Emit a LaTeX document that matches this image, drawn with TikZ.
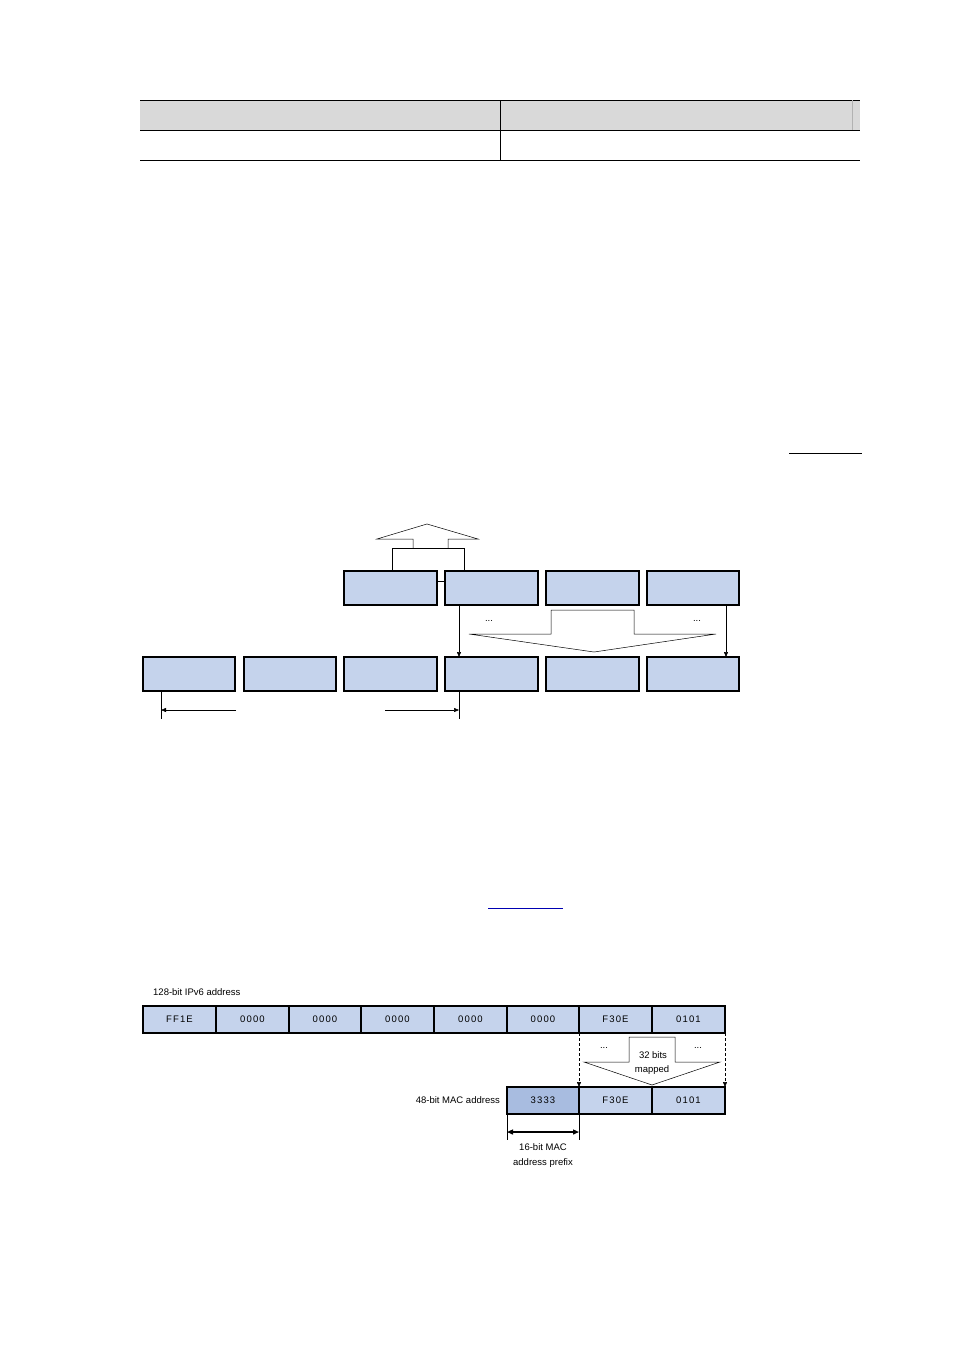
\documentclass[tikz,border=0pt]{standalone}
\usepackage{fontspec}
\setmainfont{Liberation Sans}
\usetikzlibrary{arrows.meta}
\definecolor{bx}{HTML}{C5D3EC}
\definecolor{bxd}{HTML}{A8BCE0}
\begin{document}
\begin{tikzpicture}[x=1pt,y=-1pt,
  blk/.style={draw,line width=1.3pt,fill=bx},
  mb/.style={draw,line width=1.1pt,fill=bx},
  lbl/.style={font=\fontsize{9.5}{11}\selectfont,inner sep=0pt},
  arr/.style={-{Triangle[length=5pt,width=4pt]},line width=0.5pt}]
\useasboundingbox (0,0) rectangle (954,1350);
% table
\fill[gray!30] (140,100) rectangle (860,130);
\draw[line width=0.5pt] (140,100) -- (860,100) (140,130) -- (860,130) (140,160) -- (860,160) (500,100) -- (500,160);
\draw[gray!60] (852,100) -- (852,130);
\draw[line width=0.5pt] (789,453) -- (862,453);
\draw[line width=0.5pt,blue!70!black] (488,908) -- (563,908);
% middle diagram
\foreach \n/\a/\b in {t1/344/437,t2/445/538,t3/546/639,t4/647/739}
  \draw[blk] (\a,571) rectangle (\b,605) coordinate (\n);
\foreach \n/\a/\b in {b1/143/235,b2/244/336,b3/344/437,b4/445/538,b5/546/639,b6/647/739}
  \draw[blk] (\a,657) rectangle (\b,691);
\draw[line width=0.5pt] (413,548) -- (413,539) -- (377,539) -- (427,524) -- (478,539) -- (448,539) -- (448,548);
\draw[line width=0.5pt] (392,571) -- (392,548) -- (464,548) -- (464,571);
\draw[line width=0.5pt] (437,581) -- (445,581);
\draw[line width=0.5pt] (469,634) -- (551,634) -- (551,610) -- (634,610) -- (634,634) -- (716,634) -- (594,652) -- cycle;
\node[lbl] (d1) at (489,621) {...};
\node[lbl] (d2) at (697,621) {...};
\coordinate (a1) at (459,605); \coordinate (a1e) at (459,657);
\coordinate (a2) at (726,605); \coordinate (a2e) at (726,657);
\draw[arr] (a1) -- (a1e);
\draw[arr] (a2) -- (a2e);
\draw[line width=0.5pt] (161,691) -- (161,719) (459,691) -- (459,719);
\coordinate (l1) at (236,710); \coordinate (l2) at (161,710);
\coordinate (r1) at (385,710); \coordinate (r2) at (459,710);
\draw[arr] (l1) -- (l2);
\draw[arr] (r1) -- (r2);
% bottom diagram
\node[lbl,anchor=west] (ipv6) at (153,992) {128-bit IPv6 address};
\foreach \a/\b/\t in {143/216/FF1E,216/289/0000,289/361/0000,361/434/0000,434/507/0000,507/579/0000,579/652/F30E,652/725/0101}{
  \draw[mb] (\a,1006) rectangle (\b,1033);
  \node[lbl] at ({(\a+\b)/2},1019.5) {\addfontfeature{LetterSpace=12}\t};}
\draw[mb,fill=bxd] (507,1087) rectangle (579,1114);
\draw[mb] (579,1087) rectangle (652,1114);
\draw[mb] (652,1087) rectangle (725,1114);
\node[lbl] (m1) at (543,1100.5) {\addfontfeature{LetterSpace=12}3333};
\node[lbl] (m2) at (615.5,1100.5) {\addfontfeature{LetterSpace=12}F30E};
\node[lbl] (m3) at (688.5,1100.5) {\addfontfeature{LetterSpace=12}0101};
\node[lbl,anchor=east] (mac) at (500,1100) {48-bit MAC address};
\coordinate (c1) at (579,1033); \coordinate (c1e) at (579,1087);
\coordinate (c2) at (725,1033); \coordinate (c2e) at (725,1087);
\draw[arr,densely dashed] (c1) -- (c1e);
\draw[arr,densely dashed] (c2) -- (c2e);
\draw[line width=0.5pt] (584,1062) -- (629,1062) -- (629,1037) -- (675,1037) -- (675,1062) -- (720,1062) -- (652,1085) -- cycle;
\node[lbl] (e1) at (604,1048) {...};
\node[lbl] (e2) at (698,1048) {...};
\node[lbl] (bits) at (653,1055) {32 bits};
\node[lbl] (mp) at (652,1070) {mapped};
\draw[line width=0.5pt] (507,1114) -- (507,1140) (579,1114) -- (579,1140);
\coordinate (p1) at (507,1132); \coordinate (p2) at (579,1132);
\draw[{Triangle[length=6pt,width=5pt]}-{Triangle[length=6pt,width=5pt]},line width=1.3pt] (p1) -- (p2);
\node[lbl] (pf1) at (543,1147) {16-bit MAC};
\node[lbl] (pf2) at (543,1163) {address prefix};
\end{tikzpicture}
\end{document}
